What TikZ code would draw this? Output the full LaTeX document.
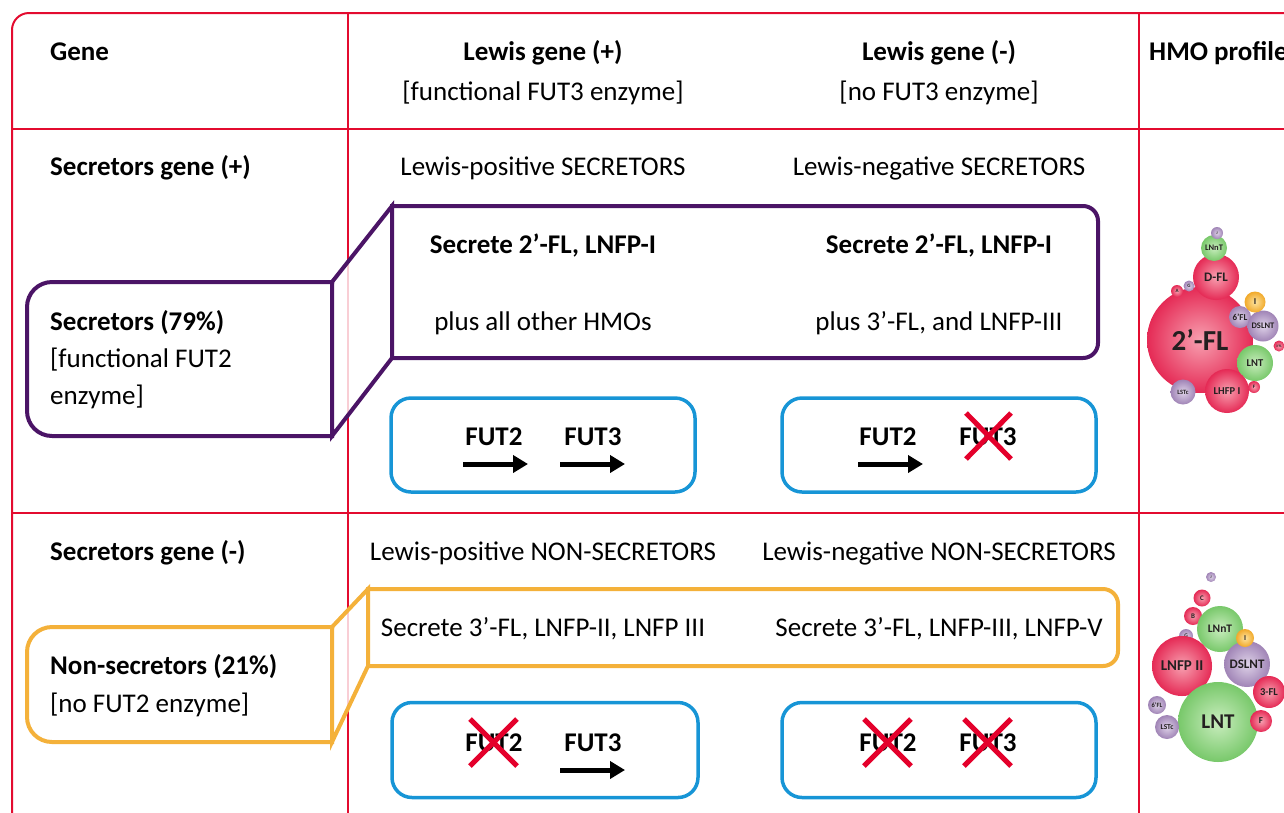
\documentclass[tikz,border=0pt]{standalone}
\usepackage{fontspec}
\setmainfont{Carlito}
\usetikzlibrary{arrows.meta}
\definecolor{tabred}{HTML}{E30B2F}
\definecolor{calpurple}{HTML}{4B1466}
\definecolor{calorange}{HTML}{F4B13A}
\definecolor{boxblue}{HTML}{1795D6}
\definecolor{crossred}{HTML}{E4002B}
\definecolor{redin}{HTML}{F7A0B0}
\definecolor{redout}{HTML}{E52A55}
\definecolor{greenin}{HTML}{C9EDBE}
\definecolor{greenout}{HTML}{78C86A}
\definecolor{purpin}{HTML}{DED2E8}
\definecolor{purpout}{HTML}{A084B6}
\definecolor{orin}{HTML}{FCE3A0}
\definecolor{orout}{HTML}{F1A92A}
\definecolor{bubtext}{HTML}{231F20}
\begin{document}
\begin{tikzpicture}[x=1pt,y=-1pt,
  tabline/.style={draw=tabred, line width=2pt},
  txt/.style={font=\fontsize{27}{30}\selectfont, inner sep=0pt, anchor=base},
  btxt/.style={font=\fontsize{27}{30}\selectfont\bfseries, inner sep=0pt, anchor=base},
  calfill/.style={fill=white, fill opacity=0.8},
  calline/.style={line width=4pt, line join=miter, line cap=rect},
  bluebox/.style={draw=boxblue, line width=3.5pt, rounded corners=20pt, inner sep=0pt},
  fatarrow/.style={line width=5pt, -{Triangle[length=15pt,width=17pt]}},
  xmark/.style={draw=crossred, line width=5pt},
  bub/.style={circle, inner sep=0pt, text=bubtext},
  bubR/.style={bub, inner color=redin, outer color=redout},
  bubG/.style={bub, inner color=greenin, outer color=greenout},
  bubP/.style={bub, inner color=purpin, outer color=purpout},
  bubO/.style={bub, inner color=orin, outer color=orout},
  fs/.style={font=\fontsize{#1}{#1}\selectfont\bfseries}
]
\useasboundingbox (0,0) rectangle (1284,812);
\begin{scope}
\clip (0,0) rectangle (1284,812);
% table
\draw[tabline, rounded corners=17pt] (12,13) rectangle (1300,830);
\draw[tabline] (348,13) -- (348,830);
\draw[tabline] (1139,13) -- (1139,830);
\draw[tabline] (12,129) -- (1300,129);
\draw[tabline] (12,513) -- (1300,513);

% header texts
\node[btxt, anchor=base west] (hgene) at (50,60) {Gene};
\node[btxt] (hlp) at (543,60) {Lewis gene (+)};
\node[txt] (hlp2) at (543,100) {[functional FUT3 enzyme]};
\node[btxt] (hln) at (939,60) {Lewis gene (-)};
\node[txt] (hln2) at (939,100) {[no FUT3 enzyme]};
\node[btxt, anchor=base west] (hhmo) at (1149,60) {HMO profile};

% row 1
\node[btxt, anchor=base west] (r1gene) at (50,175) {Secretors gene (+)};
\node[txt] (r1lp) at (543,175) {Lewis-positive SECRETORS};
\node[txt] (r1ln) at (939,175) {Lewis-negative SECRETORS};

\fill[calfill] (332,282) -- (392,206) -- (392,358) -- (332,436) -- cycle;
\fill[white, rounded corners=15pt] (392,206) -- (1098,206) -- (1098,358) -- (392,358);
\fill[white, rounded corners=25pt] (332,282) -- (27,282) -- (27,436) -- (332,436);
\begin{scope}[draw=calpurple]
\draw[calline] (392,206) -- (332,282) -- (332,436) -- (392,358) -- cycle;
\draw[calline, rounded corners=15pt] (392,206) -- (1098,206) -- (1098,358) -- (392,358);
\draw[calline, rounded corners=25pt] (332,282) -- (27,282) -- (27,436) -- (332,436);
\end{scope}

\node[btxt] (r1s1) at (543,253) {Secrete 2’-FL, LNFP-I};
\node[txt] (r1s2) at (543,330) {plus all other HMOs};
\node[btxt] (r1s3) at (939,253) {Secrete 2’-FL, LNFP-I};
\node[txt] (r1s4) at (939,330) {plus 3’-FL, and LNFP-III};
\node[btxt, anchor=base west] (sec1) at (50,330) {Secretors (79\%)};
\node[txt, anchor=base west] (sec2) at (50,367) {[functional FUT2};
\node[txt, anchor=base west] (sec3) at (50,404) {enzyme]};

\node[bluebox, minimum width=304pt, minimum height=94pt] (b11) at (543,445) {};
\node[bluebox, minimum width=314pt, minimum height=94pt] (b12) at (939,445) {};
\node[btxt] (f11) at (494,445) {FUT2};
\node[btxt] (f12) at (593,445) {FUT3};
\node[btxt] (f13) at (888,445) {FUT2};
\node[btxt] (f14) at (988,445) {FUT3};
\coordinate (a1s) at (463,464); \coordinate (a1e) at (528,464);
\coordinate (a2s) at (560,464); \coordinate (a2e) at (625,464);
\coordinate (a3s) at (858,464); \coordinate (a3e) at (923,464);
\draw[fatarrow] (a1s) -- (a1e);
\draw[fatarrow] (a2s) -- (a2e);
\draw[fatarrow] (a3s) -- (a3e);
\draw[xmark] (966,413) -- (1011,459) (1011,413) -- (966,459);

% row 2
\node[btxt, anchor=base west] (r2gene) at (50,560) {Secretors gene (-)};
\node[txt] (r2lp) at (543,560) {Lewis-positive NON-SECRETORS};
\node[txt] (r2ln) at (939,560) {Lewis-negative NON-SECRETORS};

\fill[calfill] (332,627) -- (368,589) -- (368,666) -- (332,742) -- cycle;
\fill[white, rounded corners=15pt] (368,589) -- (1118,589) -- (1118,666) -- (368,666);
\fill[white, rounded corners=25pt] (332,627) -- (27,627) -- (27,742) -- (332,742);
\begin{scope}[draw=calorange]
\draw[calline] (368,589) -- (332,627) -- (332,742) -- (368,666) -- cycle;
\draw[calline, rounded corners=15pt] (368,589) -- (1118,589) -- (1118,666) -- (368,666);
\draw[calline, rounded corners=25pt] (332,627) -- (27,627) -- (27,742) -- (332,742);
\end{scope}

\node[txt] (r2s1) at (543,636) {Secrete 3’-FL, LNFP-II, LNFP III};
\node[txt] (r2s2) at (939,636) {Secrete 3’-FL, LNFP-III, LNFP-V};
\node[btxt, anchor=base west] (ns1) at (50,674) {Non-secretors (21\%)};
\node[txt, anchor=base west] (ns2) at (50,712) {[no FUT2 enzyme]};

\node[bluebox, minimum width=306pt, minimum height=95pt] (b21) at (545,750) {};
\node[bluebox, minimum width=314pt, minimum height=95pt] (b22) at (939,750) {};
\node[btxt] (f21) at (494,751) {FUT2};
\node[btxt] (f22) at (593,751) {FUT3};
\node[btxt] (f23) at (888,751) {FUT2};
\node[btxt] (f24) at (988,751) {FUT3};
\coordinate (a4s) at (560,770); \coordinate (a4e) at (625,770);
\draw[fatarrow] (a4s) -- (a4e);
\draw[xmark] (470,719) -- (517,766) (517,719) -- (470,766);
\draw[xmark] (864,719) -- (911,766) (911,719) -- (864,766);
\draw[xmark] (964,719) -- (1011,766) (1011,719) -- (964,766);

% HMO profile 1
\node[bubR, minimum size=106pt, fs=29] (t2fl) at (1200,340) {2’-FL};
\node[bubR, minimum size=46pt, fs=13] (tdfl) at (1216,277) {D-FL};
\node[bubG, minimum size=26pt, fs=8.5] (tlnnt) at (1214,248) {LNnT};
\node[bubP, minimum size=12pt, fs=4] (tj) at (1217,233) {J};
\node[bubR, minimum size=12pt, fs=5] (ta) at (1177,291) {A};
\node[bubP, minimum size=11pt, fs=5] (tg) at (1189,286) {G};
\node[bubP, minimum size=22pt, fs=9] (t6fl) at (1240,317) {6’FL};
\node[bubP, minimum size=31pt, fs=8.5] (tdslnt) at (1263,326) {DSLNT};
\node[bubO, minimum size=21pt, fs=9] (ti) at (1255,302) {I};
\node[bubR, minimum size=11pt, fs=3.5] (t3fl) at (1279,346) {3’FL};
\node[bubG, minimum size=36pt, fs=10.5] (tlnt) at (1255,363) {LNT};
\node[bubR, minimum size=44pt, fs=10.5] (tlhfp) at (1227,391) {LHFP I};
\node[bubR, minimum size=12pt, fs=5] (tf) at (1254,387) {F};
\node[bubP, minimum size=25pt, fs=6.5] (tlstc) at (1183,392) {LSTc};

% HMO profile 2
\node[bubP, minimum size=10pt, fs=4] (bj) at (1211,577) {J};
\node[bubR, minimum size=17pt, fs=7] (bc) at (1202,598) {C};
\node[bubR, minimum size=18pt, fs=7] (bb) at (1193,616) {B};
\node[bubP, minimum size=14pt, fs=5.5] (bg) at (1186,636) {G};
\node[bubG, minimum size=46pt, fs=11.5] (blnnt) at (1220,629) {LNnT};
\node[bubR, minimum size=60pt, fs=15] (blnfp) at (1182,666) {LNFP II};
\node[bubP, minimum size=46pt, fs=13] (bdslnt) at (1247,664) {DSLNT};
\node[bubO, minimum size=18pt, fs=7.5] (bi) at (1245,638) {I};
\node[bubR, minimum size=32pt, fs=10.5] (b3fl) at (1269,692) {3-FL};
\node[bubG, minimum size=80pt, fs=21] (blnt) at (1218,722) {LNT};
\node[bubR, minimum size=22pt, fs=9] (bf) at (1261,721) {F};
\node[bubP, minimum size=18pt, fs=6.5] (b6fl) at (1157,705) {6’FL};
\node[bubP, minimum size=24pt, fs=7.5] (blstc) at (1167,727) {LSTc};
\end{scope}
\end{tikzpicture}
\end{document}
